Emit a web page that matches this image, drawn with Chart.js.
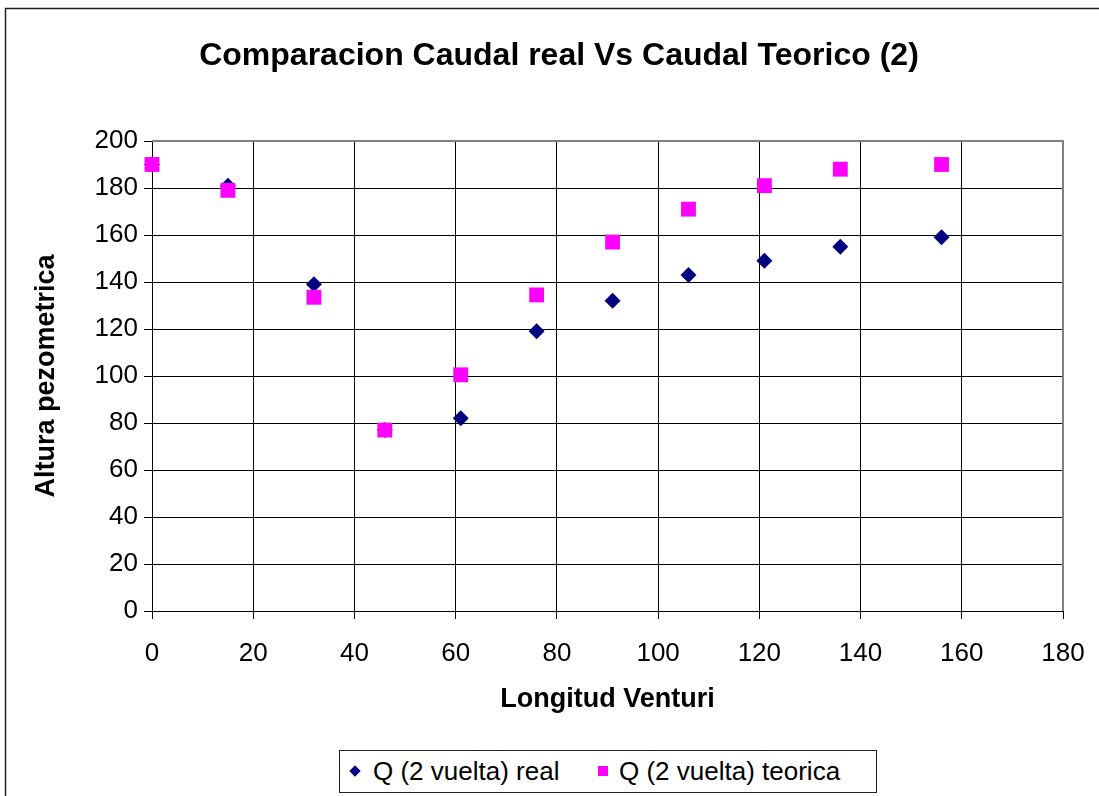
<!DOCTYPE html>
<html>
<head>
<meta charset="utf-8">
<script src="https://cdn.jsdelivr.net/npm/chart.js@4"></script>
<style>
  body { margin: 0; background: #fff; }
  #wrap { position: relative; width: 1099px; height: 796px; overflow: hidden; }
  #legend {
    position: absolute; left: 339px; top: 750px; width: 536px; height: 41px;
    border: 1px solid #222; background: #fff;
    font: 26px "Liberation Sans", Arial, sans-serif; color: #000;
  }
  #legend .mk { position: absolute; width: 10px; height: 10px; top: 15px; }
  #legend .dia { width: 8px; height: 8px; top: 16px; transform: rotate(45deg); }
  #legend .txt { position: absolute; top: 5px; line-height: 30px; white-space: nowrap; }
</style>
</head>
<body>
<div id="wrap">
  <canvas id="chart" width="1099" height="796"></canvas>
  <div id="legend"></div>
</div>
<script>
// longitud venturi (x)
var longitud = [0, 15, 32, 46, 61, 76, 91, 106, 121, 136, 156]
// Q (2 vuelta) real
var qReal = [190, 181, 139, 77, 82, 119, 132, 143, 149, 155, 159]
// Q (2 vuelta) teorica
var qTeorica = [190, 179, 133.5, 77, 100.5, 134.5, 157, 171, 181, 188, 190]

var labelReal = 'Q (2 vuelta) real'
var labelTeorica = 'Q (2 vuelta) teorica'
var titulo = 'Comparacion Caudal real Vs Caudal Teorico (2)'

var font = '"Liberation Sans", Arial, sans-serif'

function pts(xs, ys) {
  return xs.map(function (x, i) { return { x: x, y: ys[i] } })
}

var frame = {
  id: 'frame',
  beforeDraw: function (chart) {
    var ctx = chart.ctx
    ctx.save()
    ctx.fillStyle = '#fff'
    ctx.fillRect(0, 0, chart.width, chart.height)
    ctx.strokeStyle = '#222'
    ctx.lineWidth = 1.5
    ctx.strokeRect(5.5, 8.5, 1200, 900)
    ctx.restore()
  },
  beforeDatasetsDraw: function (chart) {
    var a = chart.chartArea, ctx = chart.ctx
    ctx.save()
    ctx.strokeStyle = '#808080'
    ctx.lineWidth = 2
    ctx.beginPath()
    ctx.moveTo(a.left, a.top)
    ctx.lineTo(a.right, a.top)
    ctx.lineTo(a.right, a.bottom)
    ctx.stroke()
    ctx.restore()
  },
  afterDraw: function (chart) {
    var ctx = chart.ctx
    ctx.save()
    ctx.fillStyle = '#000'
    ctx.font = 'bold 32px ' + font
    ctx.textAlign = 'center'
    ctx.textBaseline = 'middle'
    ctx.fillText(titulo, 559, 56)
    ctx.restore()
  }
}

var chart = new Chart('chart', {
  type: 'scatter',
  data: {
    datasets: [{
      label: labelReal,
      data: pts(longitud, qReal),
      pointStyle: 'rectRot',
      pointRadius: 8,
      pointHoverRadius: 8,
      backgroundColor: '#000080',
      borderWidth: 0,
      clip: false,
      order: 1
    }, {
      label: labelTeorica,
      data: pts(longitud, qTeorica),
      pointStyle: 'rect',
      pointRadius: 10.5,
      pointHoverRadius: 10.5,
      backgroundColor: '#ff00ff',
      borderWidth: 0,
      clip: false,
      order: 0
    }]
  },
  options: {
    responsive: false,
    animation: false,
    layout: { padding: { left: 8, right: 36, top: 141, bottom: 80 } },
    plugins: {
      legend: { display: false },
      tooltip: { enabled: false },
      title: { display: false }
    },
    scales: {
      x: {
        type: 'linear',
        min: 0, max: 180,
        afterFit: function (s) { s.height = 105; s.paddingRight = 0; s.paddingLeft = 0 },
        ticks: { stepSize: 20, color: '#000', font: { family: font, size: 26 }, padding: 19, maxRotation: 0 },
        grid: { color: '#000', lineWidth: 1, tickLength: 8, tickColor: '#000' },
        border: { color: '#000', width: 1 },
        title: {
          display: true, text: 'Longitud Venturi', color: '#000',
          font: { family: font, size: 27, weight: 'bold' },
          padding: { top: 10, bottom: 0 }
        }
      },
      y: {
        min: 0, max: 200,
        afterFit: function (s) { s.width = 144; s.paddingTop = 0; s.paddingBottom = 0 },
        ticks: { stepSize: 20, color: '#000', font: { family: font, size: 26 }, padding: 6 },
        grid: { color: '#000', lineWidth: 1, tickLength: 8, tickColor: '#000' },
        border: { color: '#000', width: 1 },
        title: {
          display: true, text: 'Altura pezometrica', color: '#000',
          font: { family: font, size: 27, weight: 'bold' },
          padding: { top: 22, bottom: 10 }
        }
      }
    }
  },
  plugins: [frame]
})

// legend as html, built from the datasets
var leg = document.getElementById('legend')
var slots = [{ mk: 11, txt: 33 }, { mk: 258, txt: 279 }]
chart.data.datasets.forEach(function (ds, i) {
  var mk = document.createElement('span')
  mk.className = 'mk' + (ds.pointStyle === 'rectRot' ? ' dia' : '')
  mk.style.background = ds.backgroundColor
  mk.style.left = slots[i].mk + 'px'
  leg.appendChild(mk)
  var t = document.createElement('span')
  t.className = 'txt'
  t.style.left = slots[i].txt + 'px'
  t.textContent = ds.label
  leg.appendChild(t)
})
</script>
</body>
</html>
